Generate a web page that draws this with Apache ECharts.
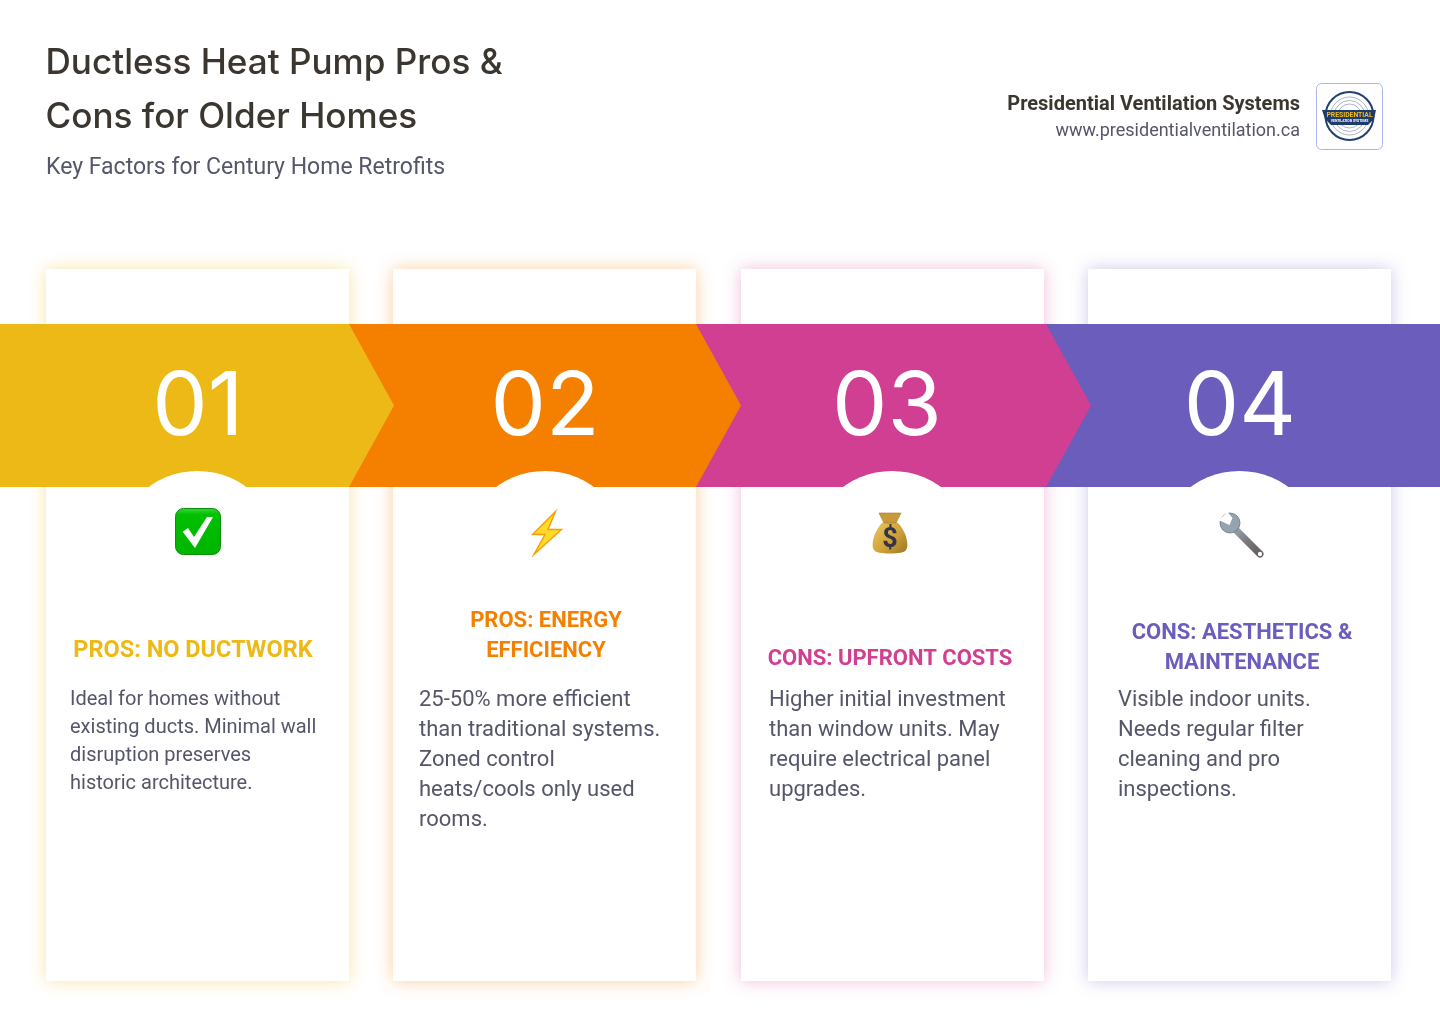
<!DOCTYPE html>
<html>
<head>
<meta charset="utf-8">
<style>html,body{margin:0;padding:0;background:#fff}#chart{width:1440px;height:1024px}</style>
<script src="https://cdn.jsdelivr.net/npm/echarts@6/dist/echarts.min.js"></script>
</head>
<body>
<div id="chart"></div>
<script>
const titleLines = ['Ductless Heat Pump Pros &', 'Cons for Older Homes'];
const subtitle = 'Key Factors for Century Home Retrofits';
const companyName = 'Presidential Ventilation Systems';
const companyUrl = 'www.presidentialventilation.ca';
const stepNumbers = ['01', '02', '03', '04'];
const stepHeadings = [
  ['PROS: NO DUCTWORK'],
  ['PROS: ENERGY', 'EFFICIENCY'],
  ['CONS: UPFRONT COSTS'],
  ['CONS: AESTHETICS &', 'MAINTENANCE']
];
const stepBodies = [
  ['Ideal for homes without', 'existing ducts. Minimal wall', 'disruption preserves', 'historic architecture.'],
  ['25-50% more efficient', 'than traditional systems.', 'Zoned control', 'heats/cools only used', 'rooms.'],
  ['Higher initial investment', 'than window units. May', 'require electrical panel', 'upgrades.'],
  ['Visible indoor units.', 'Needs regular filter', 'cleaning and pro', 'inspections.']
];

// layout and colours, kept apart from the content above
const stepColors = ['#edb916', '#f58000', '#d13f92', '#6b5dbb'];
const shadowColors = ['rgba(237,185,22,.38)', 'rgba(245,128,0,.38)', 'rgba(209,63,146,.34)', 'rgba(107,93,187,.34)'];
const cardX = [46, 393, 741, 1088];
const cardW = 303;
const arrowStart = [0, 349, 696, 1046];
const arrowEnd = [349, 696, 1046, 1440];
const numberX = [198, 545, 887, 1240];
const arcX = [197.5, 545, 892, 1239.5];
const headingX = [193, 546, 890, 1242];
const headingY = [651, 621, 659, 633];
const headingSize = [23.5, 22, 22, 22];
const bodyX = [70, 419, 769, 1118];
const bodyY = [700, 700, 700, 700];
const bodySize = [20, 22, 22, 22];
const bodyLine = [28, 30, 30, 30];
const textGrey = '#55566a';

function text(x, y, str, size, color, opts = {}) {
  return {
    type: 'text',
    z: opts.z || 10,
    x, y,
    silent: true,
    style: {
      text: str,
      fill: color,
      font: `${opts.weight || 400} ${size}px ${opts.family || 'Roboto'}`,
      textAlign: opts.align || 'left',
      textVerticalAlign: 'middle'
    }
  };
}

function checkIcon() {
  return [
    { type: 'rect', z: 12, shape: { x: 175.5, y: 508.5, width: 45, height: 46, r: 8 },
      style: { fill: new echarts.graphic.LinearGradient(0, 0, 0, 1, [
        { offset: 0, color: '#3ed63e' }, { offset: .14, color: '#00c000' }, { offset: 1, color: '#00b400' }]),
        stroke: '#0b8f0b', lineWidth: 1 } },
    { type: 'polygon', z: 13, shape: { points: [[182.7, 531.7], [188, 528], [194, 537], [207, 517], [213, 517], [195, 548]] },
      style: { fill: '#fff' } }
  ];
}

function boltIcon() {
  return [{ type: 'polygon', z: 12,
    shape: { points: [[555.5, 511.5], [532.5, 534.5], [545, 534.5], [534, 554.5], [561.5, 529.5], [548, 529.5]] },
    style: { fill: '#ffd92b', stroke: '#f59f00', lineWidth: 1.4, lineJoin: 'miter' } }];
}

function bagIcon() {
  return [
    { type: 'polygon', z: 12,
      shape: { points: [[884, 522], [896, 522], [903, 530], [907, 541], [906, 550], [898, 553], [882, 553], [874, 550], [873, 541], [877, 530]], smooth: 0.4 },
      style: { fill: new echarts.graphic.LinearGradient(0, 0, 1, 1, [
        { offset: 0, color: '#eec860' }, { offset: .55, color: '#d0a23a' }, { offset: 1, color: '#9a7522' }]) } },
    { type: 'polygon', z: 13,
      shape: { points: [[879, 513], [901, 513], [896, 523], [884, 523]] },
      style: { fill: '#c99a3c', stroke: '#a27a2a', lineWidth: .6 } },
    text(890, 540.5, '$', 27, '#33334a', { align: 'center', weight: 700, z: 14 })
  ];
}

function wrenchIcon() {
  const steel = new echarts.graphic.LinearGradient(0, 0, 1, 1, [
    { offset: 0, color: '#a9b6c0' }, { offset: .5, color: '#7d7a80' }, { offset: 1, color: '#5e5658' }]);
  return [
    { type: 'line', z: 12, shape: { x1: 1233, y1: 527, x2: 1260, y2: 554 },
      style: { stroke: steel, lineWidth: 7, lineCap: 'round' } },
    { type: 'circle', z: 13, shape: { cx: 1230, cy: 523, r: 10 }, style: { fill: '#93a4b0', stroke: '#5f6b75', lineWidth: .7 } },
    { type: 'polygon', z: 14, shape: { points: [[1229.5, 525], [1218.5, 520], [1227.5, 512], [1232.5, 518]] }, style: { fill: '#fff' } },
    { type: 'circle', z: 14, shape: { cx: 1260, cy: 554, r: 2.2 }, style: { fill: '#fff' } }
  ];
}

function logo() {
  const cx = 1349.5, cy = 116;
  const rings = [[24, '#23406e', 2], [19, '#8795ad', .7], [15.5, '#8795ad', .7], [12, '#8795ad', .7]];
  return [
    { type: 'rect', z: 5, shape: { x: 1316.5, y: 83.5, width: 66, height: 66, r: 5 },
      style: { fill: '#fff', stroke: '#aeb4f2', lineWidth: 1 } },
    ...rings.map(([r, c, w]) => ({ type: 'circle', z: 6, shape: { cx, cy, r },
      style: { fill: 'transparent', stroke: c, lineWidth: w } })),
    { type: 'polygon', z: 7, shape: { points: [[1322, 110], [1376, 110], [1374, 119], [1368, 125], [1331, 125], [1325, 119]] },
      style: { fill: '#1d3c6e' } },
    text(cx, 115.5, 'PRESIDENTIAL', 6.8, '#f2bd1c', { align: 'center', weight: 700, z: 8 }),
    text(cx, 121.5, 'VENTILATION SYSTEMS', 3.4, '#ffffff', { align: 'center', weight: 700, z: 8 })
  ];
}

const icons = [checkIcon, boltIcon, bagIcon, wrenchIcon];
const elements = [];

titleLines.forEach((line, i) => {
  elements.push(text(45.5, 63 + i * 54, line, 35.1, '#3b362f', { family: 'Inter', weight: 500 }));
});
elements.push(text(46, 168, subtitle, 23, textGrey));
elements.push(text(1300, 105, companyName, 20, '#3b362f', { align: 'right', weight: 700 }));
elements.push(text(1300, 131, companyUrl, 18, textGrey, { align: 'right' }));
elements.push(...logo());

stepNumbers.forEach((num, i) => {
  elements.push({ type: 'rect', z: 1, shape: { x: cardX[i], y: 269, width: cardW, height: 712 },
    style: { fill: '#fff', shadowBlur: 16, shadowColor: shadowColors[i] } });

  const x0 = arrowStart[i], x1 = arrowEnd[i];
  const pts = i < 3
    ? [[x0, 324], [x1, 324], [x1 + 45, 405.5], [x1, 487], [x0, 487]]
    : [[x0, 324], [x1, 324], [x1, 487], [x0, 487]];
  elements.push({ type: 'polygon', z: 3 + (3 - i) * 0.1, shape: { points: pts }, style: { fill: stepColors[i] } });

  elements.push({ type: 'circle', z: 4, shape: { cx: arcX[i], cy: 554, r: 83 }, style: { fill: '#fff' } });
  elements.push(text(numberX[i], 409, num, 88, '#ffffff', { align: 'center', weight: 400, family: 'Inter' }));

  elements.push(...icons[i]());

  stepHeadings[i].forEach((line, k) => {
    elements.push(text(headingX[i], headingY[i] + k * 30, line, headingSize[i], stepColors[i], { align: 'center', weight: 700 }));
  });
  stepBodies[i].forEach((line, k) => {
    elements.push(text(bodyX[i], bodyY[i] + k * bodyLine[i], line, bodySize[i], textGrey));
  });
});

const chart = echarts.init(document.getElementById('chart'), null, { renderer: 'canvas' });
chart.setOption({
  animation: false,
  backgroundColor: '#fff',
  graphic: { elements }
});
</script>
</body>
</html>
